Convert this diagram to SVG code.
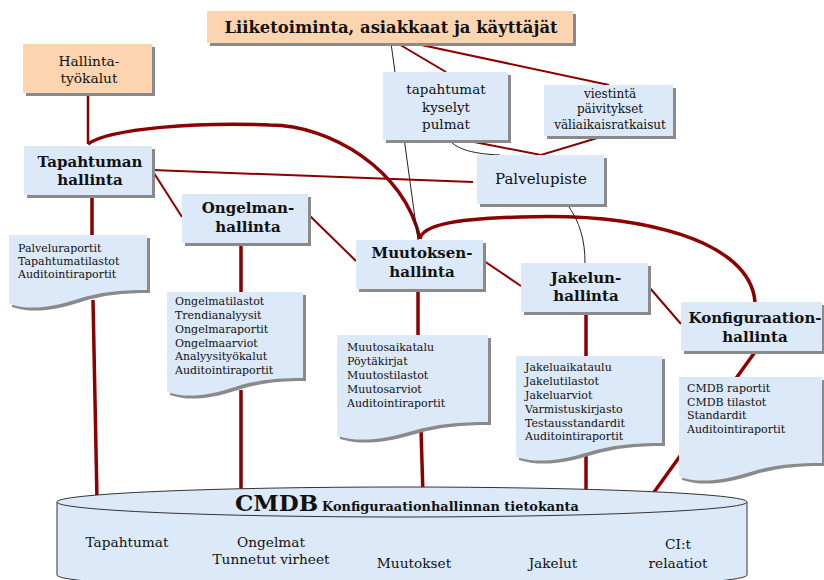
<svg xmlns="http://www.w3.org/2000/svg" width="824" height="580" viewBox="0 0 824 580">
<style>
.bx{fill:#dce9f8}
.pc{fill:#fcd5b0}
.sh{fill:#8a8a8a}
.r1{stroke:#8b0000;stroke-width:2;fill:none}
.r2{stroke:#8b0000;stroke-width:3.5;fill:none}
.k{stroke:#222;stroke-width:1;fill:none}
text{font-family:"DejaVu Serif","Liberation Serif",serif;fill:#111}
.b{font-weight:bold;font-size:15px;text-anchor:middle}
.m{text-anchor:middle}
.d{font-size:11px}
.c{font-size:13.7px;text-anchor:middle}
</style>
<rect width="824" height="580" fill="#fff"/>
<g id="connectors">
<path class="r2" style="stroke-width:2.5" d="M88,93 V144"/>
<path class="r2" d="M88,144 C110,128 200,122 270,125 C330,125 405,170 420,239"/>
<path class="r2" d="M420,239 C422,226 450,219 520,217 C640,212 750,240 755,302"/>
<path class="r2" d="M92,196 V236 M93,300 L97,500"/>
<path class="r2" d="M241,244 V293 M241,390 V495"/>
<path class="r2" d="M418,290 V336 M421,430 L423,495"/>
<path class="r2" d="M586,313 V357 M586,450 V495"/>
<path class="r2" d="M755,352 L652,495"/>
<path class="r1" d="M152,170 L473,182"/>
<path class="r1" d="M152,170 L182,217"/>
<path class="r1" d="M309,215 L356,261"/>
<path class="r1" d="M484,261 L521,286"/>
<path class="r1" d="M649,287 L681,324"/>
<path class="r1" d="M397,43 L446,72"/>
<path class="r1" d="M412,43 L609,85"/>
<path class="r1" d="M464,140 L541,155 L604,136"/>
<path class="k" d="M391,43 L418,240"/>
<path class="k" d="M449,140 C458,150 475,154 500,155"/>
<path class="k" d="M567,204 C580,222 585,240 585,263"/>
</g>
<g id="liiketoiminta">
<rect class="sh" x="210" y="14" width="366" height="32"/>
<rect class="pc" x="207" y="11" width="366" height="32"/>
<text x="391" y="33" style="font-weight:bold;font-size:16.4px" class="m">Liiketoiminta, asiakkaat ja käyttäjät</text>
</g>
<g id="hallintatyokalut">
<rect class="sh" x="26" y="47" width="129" height="49"/>
<rect class="pc" x="23" y="44" width="129" height="49"/>
<text class="m" style="font-size:13.8px" x="89" y="66">Hallinta-</text>
<text class="m" style="font-size:13.8px" x="89" y="83">työkalut</text>
</g>
<g id="tapahtumat-box">
<rect class="sh" x="386" y="75" width="125" height="68"/>
<rect class="bx" x="383" y="72" width="125" height="68"/>
<text class="m" style="font-size:13.5px" x="446" y="94">tapahtumat</text>
<text class="m" style="font-size:13.5px" x="446" y="112">kyselyt</text>
<text class="m" style="font-size:13.5px" x="446" y="129">pulmat</text>
</g>
<g id="viestinta-box">
<rect class="sh" x="547" y="88" width="129" height="51"/>
<rect class="bx" x="544" y="85" width="129" height="51"/>
<text class="m" style="font-size:12px" x="610" y="98">viestintä</text>
<text class="m" style="font-size:12px" x="610" y="113">päivitykset</text>
<text class="m" style="font-size:12px" x="610" y="129">väliaikaisratkaisut</text>
</g>
<g id="palvelupiste">
<rect class="sh" x="480" y="158" width="127" height="49"/>
<rect class="bx" x="477" y="155" width="127" height="49"/>
<text class="m" style="font-size:15px" x="541" y="184">Palvelupiste</text>
</g>
<g id="tapahtuman-hallinta">
<rect class="sh" x="27" y="149" width="128" height="49"/>
<rect class="bx" x="24" y="146" width="128" height="49"/>
<text class="b" x="90" y="167">Tapahtuman</text>
<text class="b" x="90" y="185">hallinta</text>
</g>
<g id="ongelman-hallinta">
<rect class="sh" x="185" y="197" width="126" height="49"/>
<rect class="bx" x="182" y="194" width="126" height="49"/>
<text class="b" x="248" y="213">Ongelman-</text>
<text class="b" x="248" y="232">hallinta</text>
</g>
<g id="muutoksen-hallinta">
<rect class="sh" x="359" y="243" width="127" height="49"/>
<rect class="bx" x="356" y="240" width="127" height="49"/>
<text class="b" x="422" y="258">Muutoksen-</text>
<text class="b" x="422" y="277">hallinta</text>
</g>
<g id="jakelun-hallinta">
<rect class="sh" x="524" y="266" width="127" height="49"/>
<rect class="bx" x="521" y="263" width="127" height="49"/>
<text class="b" x="586" y="283">Jakelun-</text>
<text class="b" x="586" y="301">hallinta</text>
</g>
<g id="konfiguraation-hallinta">
<rect class="sh" x="684" y="305" width="141" height="49"/>
<rect class="bx" x="681" y="302" width="141" height="49"/>
<text class="b" x="755" y="323">Konfiguraation-</text>
<text class="b" x="755" y="342">hallinta</text>
</g>
<g id="doc-tapahtuma">
<path class="sh" transform="translate(3,3)" d="M9,235 H147 V290 C119.4,290 100.1,292 78,299 C53.2,307 29.7,311 9,304 Z"/>
<path class="bx" d="M9,235 H147 V290 C119.4,290 100.1,292 78,299 C53.2,307 29.7,311 9,304 Z"/>
<text class="d" x="18" y="252">Palveluraportit</text>
<text class="d" x="18" y="265">Tapahtumatilastot</text>
<text class="d" x="18" y="278">Auditointiraportit</text>
</g>
<g id="doc-ongelma">
<path class="sh" transform="translate(3,3)" d="M167,292 H303 V378 C275.8,378 256.8,380 235,387 C210.5,395 187.4,399 167,392 Z"/>
<path class="bx" d="M167,292 H303 V378 C275.8,378 256.8,380 235,387 C210.5,395 187.4,399 167,392 Z"/>
<text class="d" x="175" y="305">Ongelmatilastot</text>
<text class="d" x="175" y="319">Trendianalyysit</text>
<text class="d" x="175" y="333">Ongelmaraportit</text>
<text class="d" x="175" y="347">Ongelmaarviot</text>
<text class="d" x="175" y="360">Analyysityökalut</text>
<text class="d" x="175" y="374">Auditointiraportit</text>
</g>
<g id="doc-muutos">
<path class="sh" transform="translate(3,3)" d="M337,335 H488 V422 C457.8,422 436.7,424 412.5,431 C385.3,439 359.7,443 337,436 Z"/>
<path class="bx" d="M337,335 H488 V422 C457.8,422 436.7,424 412.5,431 C385.3,439 359.7,443 337,436 Z"/>
<text class="d" x="347" y="351">Muutosaikatalu</text>
<text class="d" x="347" y="365">Pöytäkirjat</text>
<text class="d" x="347" y="379">Muutostilastot</text>
<text class="d" x="347" y="393">Muutosarviot</text>
<text class="d" x="347" y="407">Auditointiraportit</text>
</g>
<g id="doc-jakelu">
<path class="sh" transform="translate(3,3)" d="M516,356 H662 V443 C632.8,443 612.4,445 589,452 C562.7,460 537.9,464 516,457 Z"/>
<path class="bx" d="M516,356 H662 V443 C632.8,443 612.4,445 589,452 C562.7,460 537.9,464 516,457 Z"/>
<text class="d" x="525" y="371">Jakeluaikataulu</text>
<text class="d" x="525" y="385">Jakelutilastot</text>
<text class="d" x="525" y="399">Jakeluarviot</text>
<text class="d" x="525" y="413">Varmistuskirjasto</text>
<text class="d" x="525" y="427">Testausstandardit</text>
<text class="d" x="525" y="440">Auditointiraportit</text>
</g>
<g id="doc-konfiguraatio">
<path class="sh" transform="translate(3,3)" d="M679,377 H822 V463 C793.4,463 773.4,465 750.5,472 C724.8,480 700.5,484 679,477 Z"/>
<path class="bx" d="M679,377 H822 V463 C793.4,463 773.4,465 750.5,472 C724.8,480 700.5,484 679,477 Z"/>
<text class="d" x="687" y="392">CMDB raportit</text>
<text class="d" x="687" y="406">CMDB tilastot</text>
<text class="d" x="687" y="419">Standardit</text>
<text class="d" x="687" y="433">Auditointiraportit</text>
</g>
<g id="cmdb">
<path class="bx" stroke="#333" stroke-width="1" d="M57,502 V575 A345,15 0 0 0 747,575 V502"/>
<ellipse class="bx" stroke="#333" stroke-width="1" cx="402" cy="502" rx="345" ry="15"/>
<text x="235" y="511" style="font-weight:bold;font-size:23px">CMDB</text>
<text x="322" y="511" style="font-weight:bold;font-size:12.9px">Konfiguraationhallinnan tietokanta</text>
<text class="c" x="127" y="547">Tapahtumat</text>
<text class="c" x="271" y="547">Ongelmat</text>
<text class="c" x="271" y="564">Tunnetut virheet</text>
<text class="c" x="414" y="568">Muutokset</text>
<text class="c" x="553" y="568">Jakelut</text>
<text class="c" x="678" y="549">CI:t</text>
<text class="c" x="678" y="568">relaatiot</text>
</g>
</svg>
